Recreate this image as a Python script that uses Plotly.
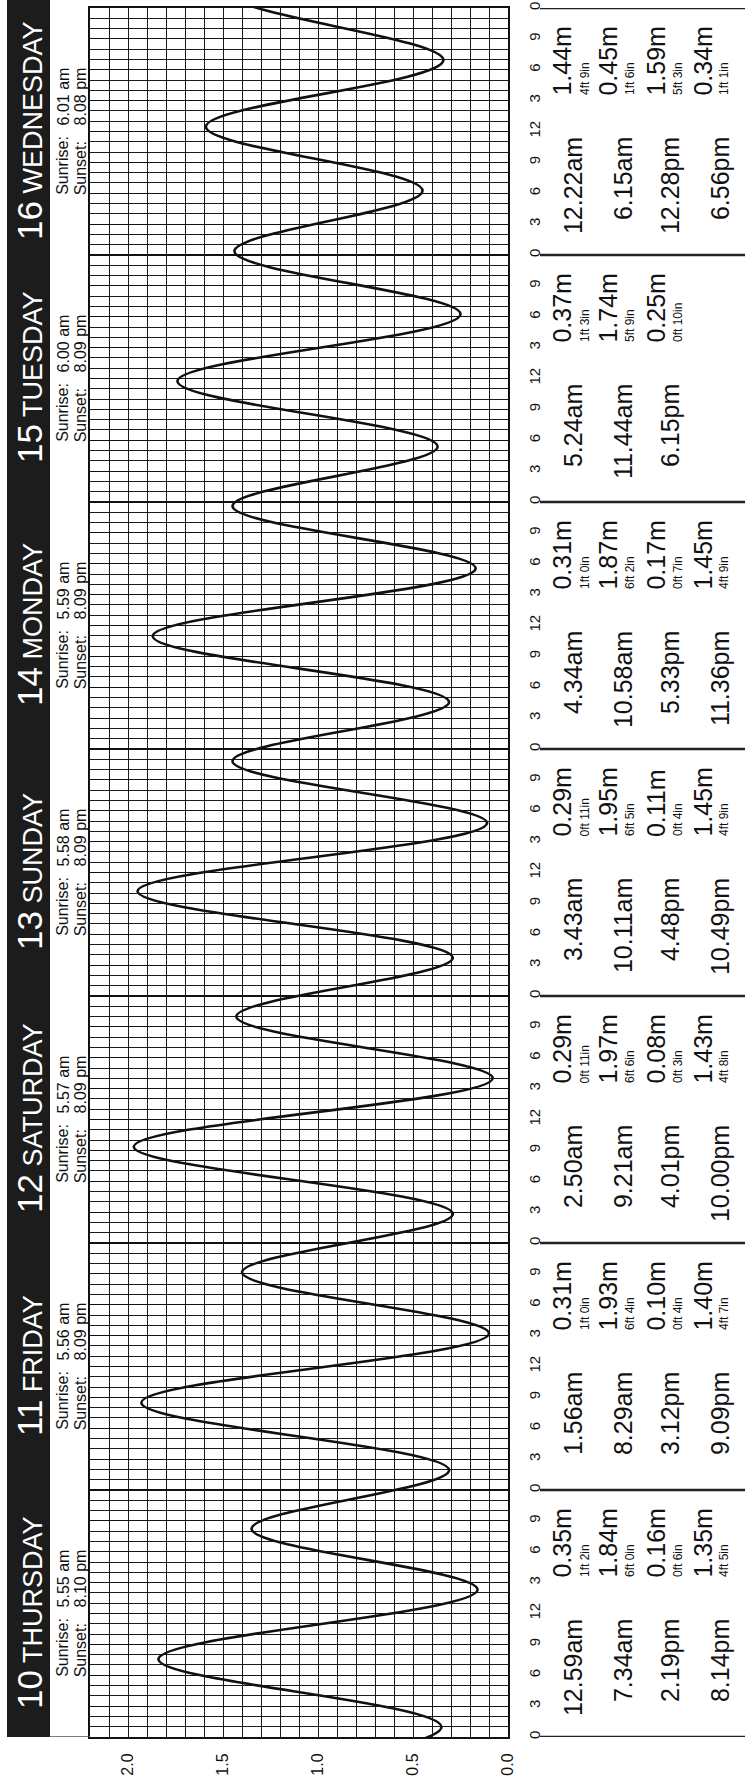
import plotly.graph_objects as go

# ---------------- data ----------------
day_numbers = [10, 11, 12, 13, 14, 15, 16]
day_names = ["THURSDAY", "FRIDAY", "SATURDAY", "SUNDAY", "MONDAY", "TUESDAY", "WEDNESDAY"]
sunrise = ["5.55 am", "5.56 am", "5.57 am", "5.58 am", "5.59 am", "6.00 am", "6.01 am"]
sunset = ["8.10 pm", "8.09 pm", "8.09 pm", "8.09 pm", "8.09 pm", "8.09 pm", "8.08 pm"]

tide_times = [
    ["12.59am", "7.34am", "2.19pm", "8.14pm"],
    ["1.56am", "8.29am", "3.12pm", "9.09pm"],
    ["2.50am", "9.21am", "4.01pm", "10.00pm"],
    ["3.43am", "10.11am", "4.48pm", "10.49pm"],
    ["4.34am", "10.58am", "5.33pm", "11.36pm"],
    ["5.24am", "11.44am", "6.15pm"],
    ["12.22am", "6.15am", "12.28pm", "6.56pm"],
]
tide_heights_m = [
    [0.35, 1.84, 0.16, 1.35],
    [0.31, 1.93, 0.10, 1.40],
    [0.29, 1.97, 0.08, 1.43],
    [0.29, 1.95, 0.11, 1.45],
    [0.31, 1.87, 0.17, 1.45],
    [0.37, 1.74, 0.25],
    [1.44, 0.45, 1.59, 0.34],
]
tide_heights_ft = [
    ["1ft 2in", "6ft 0in", "0ft 6in", "4ft 5in"],
    ["1ft 0in", "6ft 4in", "0ft 4in", "4ft 7in"],
    ["0ft 11in", "6ft 6in", "0ft 3in", "4ft 8in"],
    ["0ft 11in", "6ft 5in", "0ft 4in", "4ft 9in"],
    ["1ft 0in", "6ft 2in", "0ft 7in", "4ft 9in"],
    ["1ft 3in", "5ft 9in", "0ft 10in"],
    ["4ft 9in", "1ft 6in", "5ft 3in", "1ft 1in"],
]
# extremes just outside the week (hours from Thu 00:00, metres); only the
# curve's entry/exit at the chart ends is visible
before_week_hours = [-11.3, -5.0]
before_week_m = [0.40, 1.26]
after_week_hours = [169.5, 175.8]
after_week_m = [1.47, 0.40]

height_ticks = [0.0, 0.5, 1.0, 1.5, 2.0]
hour_tick_labels = ["0", "3", "6", "9", "12", "3", "6", "9"]

# ---------------- geometry ----------------
FIG_W, FIG_H = 745, 1778
PL, PR, PT, PB = 90, 508, 2, 1737
FONT = "Liberation Sans, Arial, Helvetica, sans-serif"
INK = "#111111"


def px(x):
    return (x - PL) / (PR - PL)


def to_hours(s):
    hm, ap = s[:-2], s[-2:]
    h, m = hm.split(".")
    return int(h) % 12 + (12 if ap == "pm" else 0) + int(m) / 60.0


# ---------------- tide curve ----------------
curve_t = list(before_week_hours)
curve_h = list(before_week_m)
for d, (ts, hs) in enumerate(zip(tide_times, tide_heights_m)):
    for t, h in zip(ts, hs):
        curve_t.append(24 * d + to_hours(t))
        curve_h.append(h)
curve_t += after_week_hours
curve_h += after_week_m

fig = go.Figure()
fig.add_trace(go.Scatter(
    x=curve_h, y=curve_t, mode="lines",
    line=dict(color=INK, width=2.6, shape="spline", smoothing=1.0),
    hoverinfo="skip", showlegend=False,
))

shapes = []
annotations = []

# dark day-name band
shapes.append(dict(type="rect", xref="paper", yref="paper",
                   x0=px(7), x1=px(50), y0=0, y1=1.01,
                   fillcolor="#1c1c1c", line=dict(width=0), layer="above"))
# bottom edge under the sunrise strip
shapes.append(dict(type="line", xref="paper", yref="y",
                   x0=px(50), x1=0, y0=0, y1=0,
                   line=dict(color="#555555", width=1.5)))

n_days = len(day_names)
for d in range(n_days):
    base = 24 * d
    if d > 0:
        shapes.append(dict(type="line", xref="x", yref="y",
                           x0=0, x1=2.2, y0=base, y1=base,
                           line=dict(color=INK, width=2.2)))
    # day name
    annotations.append(dict(
        xref="paper", yref="y", x=px(30), y=base + 12.05,
        text=f"<span style='font-size:35px'>{day_numbers[d]}</span> {day_names[d]}",
        font=dict(family=FONT, size=27, color="white"),
        textangle=-90, showarrow=False, xanchor="center", yanchor="middle"))
    # sunrise / sunset
    for lbl, val, xc in (("Sunrise:", sunrise[d], 63), ("Sunset:", sunset[d], 80)):
        annotations.append(dict(
            xref="paper", yref="y", x=px(xc), y=base + 5.6, text=lbl,
            font=dict(family=FONT, size=16, color=INK),
            textangle=-90, showarrow=False, xanchor="center", yanchor="bottom"))
        annotations.append(dict(
            xref="paper", yref="y", x=px(xc), y=base + 12.4, text=val,
            font=dict(family=FONT, size=16, color=INK),
            textangle=-90, showarrow=False, xanchor="center", yanchor="bottom"))
    # tide table
    time_x = [573, 623, 670, 720]
    m_x = [562, 608, 656, 703]
    ft_x = [585, 630, 678, 724]
    for i, (t, h, f) in enumerate(zip(tide_times[d], tide_heights_m[d], tide_heights_ft[d])):
        annotations.append(dict(
            xref="paper", yref="y", x=px(time_x[i]), y=base + 11.6, text=t,
            font=dict(family=FONT, size=25, color=INK),
            textangle=-90, showarrow=False, xanchor="center", yanchor="top"))
        annotations.append(dict(
            xref="paper", yref="y", x=px(m_x[i]), y=base + 15.25, text=f"{h:.2f}m",
            font=dict(family=FONT, size=25, color=INK),
            textangle=-90, showarrow=False, xanchor="center", yanchor="bottom"))
        annotations.append(dict(
            xref="paper", yref="y", x=px(ft_x[i]), y=base + 15.3, text=f,
            font=dict(family=FONT, size=12, color=INK),
            textangle=-90, showarrow=False, xanchor="center", yanchor="bottom"))

# day separators in the table area
for d in range(n_days + 1):
    shapes.append(dict(type="line", xref="paper", yref="y",
                       x0=px(540), x1=px(750), y0=24 * d, y1=24 * d,
                       line=dict(color="#222222", width=2.6)))

hour_vals = list(range(0, 24 * n_days + 1, 3))
hour_text = [hour_tick_labels[(v // 3) % 8] for v in hour_vals]

fig.update_layout(
    width=FIG_W, height=FIG_H, autosize=False,
    margin=dict(l=PL, r=FIG_W - PR, t=PT, b=FIG_H - PB, pad=0),
    paper_bgcolor="white", plot_bgcolor="white",
    font=dict(family=FONT, color=INK),
    showlegend=False,
    shapes=shapes, annotations=annotations,
    xaxis=dict(
        range=[2.2, 0], tickmode="array", tickvals=height_ticks,
        ticktext=[f"{v:.1f}" for v in height_ticks],
        tickangle=-90, tickfont=dict(size=16, color=INK), ticks="",
        ticklabelstandoff=8, ticklabeloverflow="allow",
        showgrid=True, gridcolor="#1a1a1a", gridwidth=1,
        minor=dict(tickmode="linear", tick0=0, dtick=0.1, showgrid=True,
                   gridcolor="#1a1a1a", gridwidth=1, ticks=""),
        showline=True, linecolor=INK, linewidth=2, mirror=True,
        zeroline=False, fixedrange=True,
    ),
    yaxis=dict(
        range=[0, 24 * n_days], side="right", tickmode="array",
        tickvals=hour_vals, ticktext=hour_text,
        tickangle=-90, tickfont=dict(size=15, color=INK), ticks="",
        ticklabelstandoff=12, ticklabeloverflow="allow",
        showgrid=True, gridcolor="#111111", gridwidth=1.3,
        minor=dict(tickmode="linear", tick0=0, dtick=1, showgrid=True,
                   gridcolor="#1a1a1a", gridwidth=1, ticks=""),
        showline=True, linecolor=INK, linewidth=2, mirror=True,
        zeroline=False, fixedrange=True,
    ),
)

fig.write_html("out.html", config={"displayModeBar": False},
               post_script="document.body.style.margin='0px';")
